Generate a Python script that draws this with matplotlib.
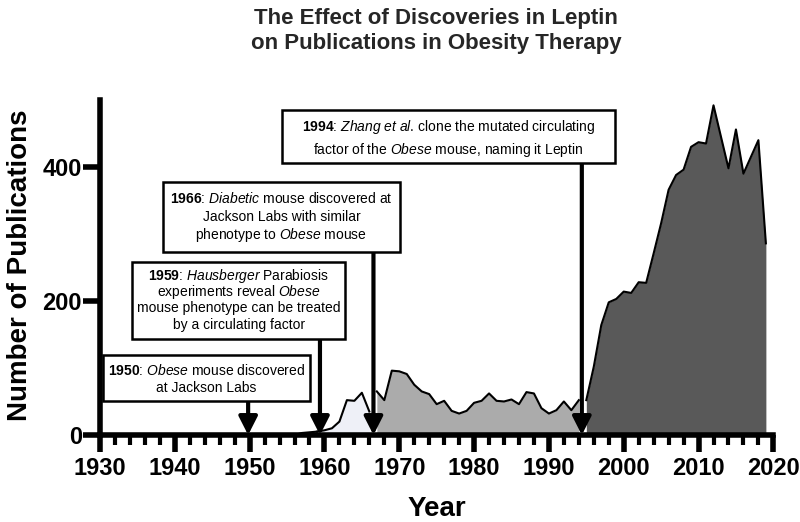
import matplotlib
matplotlib.use('Agg')
import matplotlib.pyplot as plt
from matplotlib.ticker import MultipleLocator
from matplotlib.patches import Rectangle

plt.rcParams['font.family'] = ['Liberation Sans', 'DejaVu Sans']
plt.rcParams['mathtext.fontset'] = 'custom'
plt.rcParams['mathtext.rm'] = 'Liberation Sans'
plt.rcParams['mathtext.it'] = 'Liberation Sans:italic'
plt.rcParams['mathtext.bf'] = 'Liberation Sans:bold'

# ---------------- data ----------------
pre_years = [1956, 1957, 1958, 1959]
pre_values = [0, 3, 4, 5]
early_years = [1959, 1960, 1961, 1962, 1963, 1964, 1965, 1966]
early_values = [5, 7, 10, 20, 52, 51, 63, 35]
mid_years = list(range(1967, 1995))
mid_values = [65, 52, 96, 95, 91, 75, 65, 61, 46, 51, 36, 32, 36, 48, 51, 62,
              51, 50, 53, 46, 64, 62, 40, 32, 37, 50, 37, 52]
late_years = list(range(1995, 2020))
late_values = [52, 102, 164, 198, 203, 214, 212, 228, 227, 271, 316, 366, 388,
               396, 430, 437, 435, 492, 445, 398, 456, 390, 415, 440, 286]

event_years = [1949.8, 1959.4, 1966.55, 1994.4]
event_texts = [
    [r"$\mathbf{1950}$: $\mathit{Obese}$ mouse discovered",
     "at Jackson Labs"],
    [r"$\mathbf{1959}$: $\mathit{Hausberger}$ Parabiosis",
     r"experiments reveal $\mathit{Obese}$",
     "mouse phenotype can be treated",
     "by a circulating factor"],
    [r"$\mathbf{1966}$: $\mathit{Diabetic}$ mouse discovered at",
     "Jackson Labs with similar",
     r"phenotype to $\mathit{Obese}$ mouse"],
    [r"$\mathbf{1994}$: $\mathit{Zhang\ et\ al}$. clone the mutated circulating",
     r"factor of the $\mathit{Obese}$ mouse, naming it Leptin"],
]

title = "The Effect of Discoveries in Leptin\non Publications in Obesity Therapy"
x_label = "Year"
y_label = "Number of Publications"

# ---------------- figure ----------------
fig = plt.figure(figsize=(8, 5.22), dpi=100)
ax = fig.add_axes([0.125, 0.1667, 0.8417, 0.6418])

ax.fill_between(pre_years, pre_values, 0, color='white', lw=0, zorder=1)
ax.plot(pre_years, pre_values, color='black', lw=1.5, zorder=2)
ax.fill_between(early_years, early_values, 0, color='#eef0f7', lw=0, zorder=1)
ax.plot(early_years, early_values, color='black', lw=1.5, zorder=2)
ax.fill_between(mid_years, mid_values, 0, color='#ababab', lw=0, zorder=1)
ax.plot(mid_years, mid_values, color='black', lw=1.5, zorder=2)
ax.fill_between(late_years, late_values, 0, color='#595959', lw=0, zorder=1)
ax.plot(late_years, late_values, color='black', lw=1.5, zorder=2)

ax.set_xlim(1930, 2020)
ax.set_ylim(0, 500)

# annotation boxes: (left, right, bottom, top, first baseline, line pitch) in data units
boxes = [
    (1930.4, 1958.1, 50.7, 119.4, 89.6, 24.9),
    (1934.3, 1962.75, 143.3, 258.2, 230.8, 24.0),
    (1938.4, 1970.1, 273.1, 377.6, 346.7, 27.3),
    (1954.3, 1998.85, 406.0, 485.0, 454.2, 34.3),
]
for yr, lines, (l, r, b, t, base, pitch) in zip(event_years, event_texts, boxes):
    ax.annotate('', xy=(yr, 0), xytext=(yr, (b + t) / 2), xycoords='data',
                arrowprops=dict(arrowstyle='-|>,head_length=0.55,head_width=0.28',
                                lw=3, color='black', shrinkA=0, shrinkB=0,
                                mutation_scale=20),
                zorder=3, annotation_clip=False)
    ax.add_patch(Rectangle((l, b), r - l, t - b, facecolor='white',
                           edgecolor='black', lw=1.8, zorder=4, clip_on=False))
    cx = (l + r) / 2
    for i, line in enumerate(lines):
        ax.text(cx, base - i * pitch, line, ha='center', va='baseline',
                fontsize=10, color='black', zorder=5)

# axes styling
for s in ['top', 'right']:
    ax.spines[s].set_visible(False)
for s in ['left', 'bottom']:
    ax.spines[s].set_linewidth(4)
    ax.spines[s].set_zorder(6)

ax.xaxis.set_major_locator(MultipleLocator(10))
ax.xaxis.set_minor_locator(MultipleLocator(2))
ax.set_yticks([0, 200, 400])
ax.tick_params(axis='x', which='major', length=12, width=4, direction='out',
               labelsize=17, pad=4)
ax.tick_params(axis='x', which='minor', length=7, width=3, direction='out')
ax.tick_params(axis='y', which='major', length=12, width=4, direction='out',
               labelsize=17, pad=1)
for lbl in ax.get_xticklabels() + ax.get_yticklabels():
    lbl.set_fontweight('bold')

fig.text(20.5 / 800, 1 - 265 / 522, y_label, rotation=90, ha='center',
         va='center', fontsize=20, fontweight='bold')
fig.text(437 / 800, 1 - 516 / 522, x_label, ha='center', va='baseline',
         fontsize=20, fontweight='bold')
fig.text(0.545, 0.985, title, ha='center', va='top', fontsize=16,
         fontweight='bold', family=['Liberation Sans Narrow', 'Liberation Sans'],
         color='#262626', linespacing=1.25)

fig.savefig('out.png', dpi=100)
